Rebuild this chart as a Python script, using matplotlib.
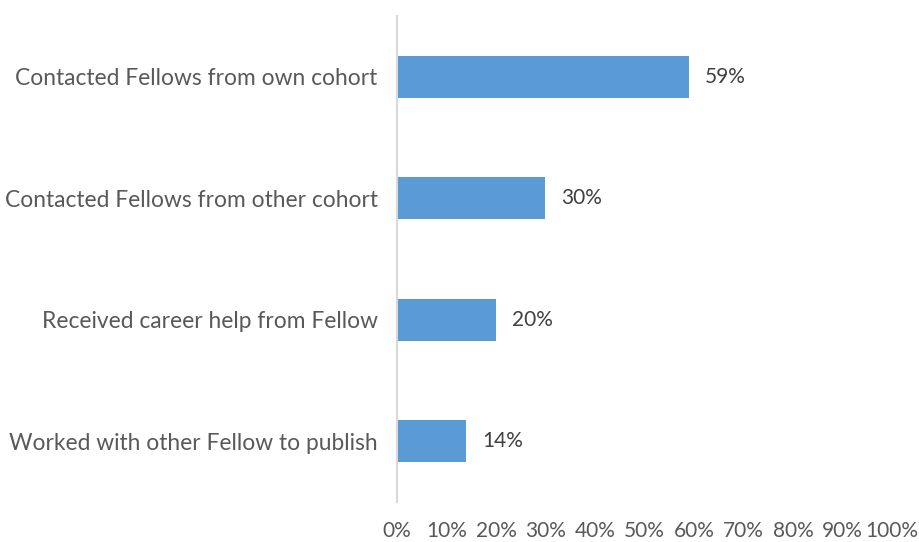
import matplotlib.pyplot as plt
import numpy as np

# data
categories = ['Contacted Fellows from own cohort',
              'Contacted Fellows from other cohort',
              'Received career help from Fellow',
              'Worked with other Fellow to publish']
values = [59, 30, 20, 14]
xticks = list(range(0, 101, 10))

plt.rcParams['font.family'] = ['Lato', 'DejaVu Sans']
text_col = '#595959'

fig = plt.figure(figsize=(9.2, 5.42), dpi=100)
ax = fig.add_axes([397 / 920, 40 / 542, 495 / 920, 486 / 542])

y = np.arange(len(categories))[::-1]
bars = ax.barh(y, values, height=0.345, color='#5B9BD5')

for b, v in zip(bars, values):
    ax.text(b.get_width() + 3.2, b.get_y() + b.get_height() / 2, f'{v}%',
            va='center', ha='left', fontsize=15, color='#404040')

ax.set_xlim(0, 100)
ax.set_ylim(-0.5, len(categories) - 0.5)
ax.set_yticks(y)
ax.set_yticklabels(categories, fontsize=16.4, color=text_col)
ax.set_xticks(xticks)
ax.set_xticklabels([f'{t}%' for t in xticks], fontsize=15, color=text_col)
ax.tick_params(axis='y', length=0, pad=14)
ax.tick_params(axis='x', length=0, pad=14)

for s in ['top', 'right', 'bottom']:
    ax.spines[s].set_visible(False)
ax.spines['left'].set_color('#D9D9D9')
ax.spines['left'].set_linewidth(1.5)

fig.savefig('out.png', dpi=100)
